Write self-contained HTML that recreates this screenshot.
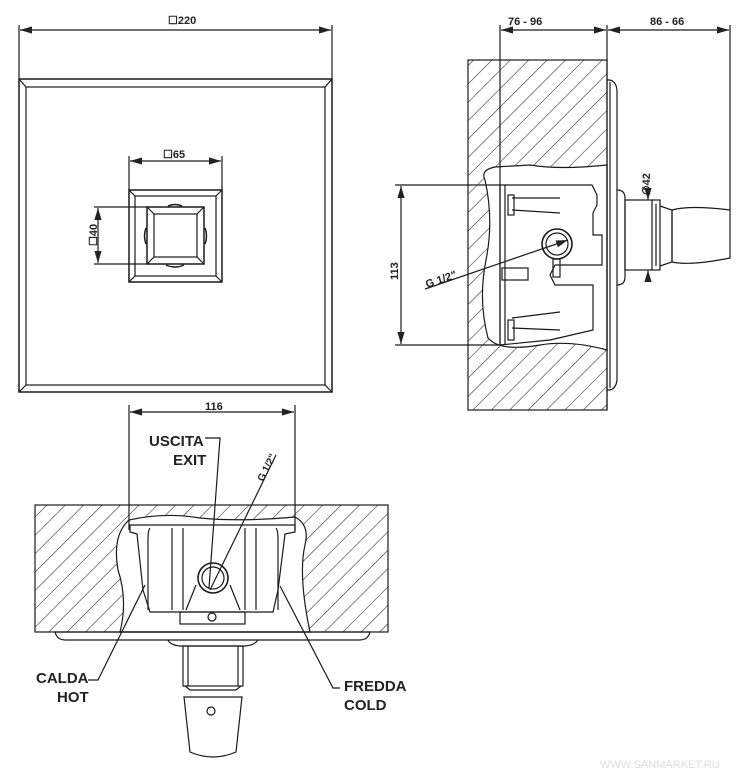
<!DOCTYPE html>
<html><head><meta charset="utf-8"><style>
html,body{margin:0;padding:0;background:#fff;}
svg{display:block;}
text{font-family:"Liberation Sans",Arial,sans-serif;font-weight:bold;fill:#222;}
</style></head><body>
<svg width="750" height="773" viewBox="0 0 750 773" xmlns="http://www.w3.org/2000/svg">
<defs>
<pattern id="h" patternUnits="userSpaceOnUse" width="13" height="13" patternTransform="rotate(45)">
<line x1="0" y1="0" x2="0" y2="13" stroke="#333" stroke-width="1.2"/>
</pattern>
<marker id="a" viewBox="0 0 10 6" refX="10" refY="3" markerWidth="10" markerHeight="6" orient="auto-start-reverse"><path d="M0,0 L10,3 L0,6z" fill="#222"/></marker>
</defs>
<g fill="none" stroke="#1a1a1a" stroke-width="1.2">
<!-- TOP-LEFT VIEW -->
<line x1="19" y1="25" x2="19" y2="79"/><line x1="332" y1="25" x2="332" y2="79"/>
<line x1="20" y1="30" x2="331" y2="30" marker-start="url(#a)" marker-end="url(#a)"/>
<rect x="19" y="79" width="313" height="313" stroke-width="1.5"/>
<rect x="26" y="87" width="299" height="298"/>
<path d="M19 79 L26 87 M332 79 L325 87 M19 392 L26 385 M332 392 L325 385"/>
<line x1="129" y1="156" x2="129" y2="190"/><line x1="222" y1="156" x2="222" y2="190"/>
<line x1="130" y1="161" x2="221" y2="161" marker-start="url(#a)" marker-end="url(#a)"/>
<rect x="129" y="190" width="93" height="92" stroke-width="1.5"/>
<rect x="135" y="196" width="81" height="80"/>
<path d="M129 190 L135 196 M222 190 L216 196 M129 282 L135 276 M222 282 L216 276"/>
<rect x="147" y="207" width="57" height="57" stroke-width="1.5"/>
<rect x="154" y="214" width="43" height="43"/>
<path d="M147 207 L154 214 M204 207 L197 214 M147 264 L154 257 M204 264 L197 257"/>
<path d="M146 228 Q143 236 146 244 M205 228 Q208 236 205 244 M168 206 Q175 203 182 206 M166 265 Q175 269 184 265" stroke-width="1.5"/>
<line x1="94" y1="207" x2="147" y2="207"/><line x1="94" y1="264" x2="147" y2="264"/>
<line x1="98" y1="208" x2="98" y2="263" marker-start="url(#a)" marker-end="url(#a)"/>

<!-- RIGHT VIEW -->
<rect x="468" y="60" width="139" height="350" fill="url(#h)" stroke="none"/>
<path d="M485 180 Q480 170 495 167 L530 165 Q560 170 607 165 L607 350 Q570 340 540 345 Q500 352 488 338 Q478 300 486 260 Q494 220 485 180z" fill="#fff" stroke="#1a1a1a"/>
<rect x="468" y="60" width="139" height="350"/>
<line x1="500" y1="25" x2="500" y2="345"/>
<line x1="607" y1="25" x2="607" y2="410"/>
<line x1="730" y1="25" x2="730" y2="210"/>
<line x1="501" y1="30" x2="606" y2="30" marker-start="url(#a)" marker-end="url(#a)"/>
<line x1="608" y1="30" x2="729" y2="30" marker-start="url(#a)" marker-end="url(#a)"/>
<path d="M607 80 L610 80 Q617 82 617 92 L617 378 Q617 388 610 390 L607 390"/>
<line x1="610" y1="82" x2="610" y2="388"/>
<path d="M500 185 L592 185 L597 195 L597 205 L593 213 L593 235 L602 235 L602 265 L555 265 L550 275 L555 285 L593 285 L593 330 L550 340 L500 345z"/>
<line x1="505" y1="185" x2="505" y2="345"/>
<line x1="512" y1="198" x2="560" y2="198"/><line x1="512" y1="210" x2="560" y2="213"/><rect x="508" y="195" width="6" height="20"/>
<line x1="512" y1="318" x2="560" y2="312"/><line x1="512" y1="328" x2="560" y2="330"/><rect x="508" y="320" width="6" height="20"/>
<rect x="502" y="268" width="26" height="12"/>
<circle cx="557" cy="244" r="15" stroke-width="1.6"/><circle cx="557" cy="244" r="11"/>
<rect x="553" y="259" width="7" height="18"/>
<path d="M617 190 Q625 190 625 198 L625 277 Q625 285 617 285"/>
<rect x="625" y="200" width="35" height="70"/>
<line x1="652" y1="200" x2="652" y2="270"/><line x1="656" y1="204" x2="656" y2="266"/>
<path d="M660 206 L672 210 L672 262 L660 266"/>
<path d="M672 210 Q690 205 730 210 L730 258 Q690 266 672 262z"/>
<line x1="648" y1="190" x2="648" y2="200" marker-end="url(#a)"/><line x1="648" y1="280" x2="648" y2="270" marker-end="url(#a)"/>
<line x1="395" y1="185" x2="500" y2="185"/><line x1="395" y1="345" x2="500" y2="345"/>
<line x1="401" y1="186" x2="401" y2="344" marker-start="url(#a)" marker-end="url(#a)"/>
<line x1="425" y1="289" x2="568" y2="240" marker-end="url(#a)"/>

<!-- BOTTOM VIEW -->
<rect x="35" y="505" width="353" height="127" fill="url(#h)" stroke="none"/>
<path d="M129 520 Q165 512 200 518 Q240 522 295 517 Q310 525 305 545 Q298 575 310 632 L120 632 Q128 600 118 570 Q112 535 129 520z" fill="#fff" stroke="#1a1a1a"/>
<rect x="35" y="505" width="353" height="127"/>
<line x1="129" y1="405" x2="129" y2="530"/><line x1="295" y1="405" x2="295" y2="530"/>
<line x1="130" y1="412" x2="294" y2="412" marker-start="url(#a)" marker-end="url(#a)"/>
<path d="M130 525 L295 525 L295 532 L285 534 L278 590 L273 612 L150 612 L143 590 L137 534 L130 532z"/>
<path d="M150 528 Q148 530 148 540 L148 610 M183 528 L183 610 M172 528 L172 610 M245 528 L245 610 M256 528 L256 610 M276 528 Q278 530 278 540 L278 610"/>
<circle cx="213" cy="578" r="15" stroke-width="1.6"/><circle cx="213" cy="578" r="11"/>
<path d="M196 585 L186 610 M230 585 L240 610"/>
<rect x="180" y="612" width="65" height="12"/>
<circle cx="212" cy="617" r="4"/>
<path d="M55 632 L370 632 Q368 640 360 640 L65 640 Q57 640 55 632z"/>
<path d="M168 640 Q170 645 180 646 L245 646 Q255 645 258 640"/>
<rect x="183" y="646" width="60" height="40"/>
<line x1="188" y1="646" x2="188" y2="686"/><line x1="238" y1="646" x2="238" y2="686"/>
<path d="M185 686 L190 690 L236 690 L241 686"/>
<path d="M184 697 L242 697 L236 752 Q213 762 190 752z"/>
<circle cx="211" cy="711" r="4"/>
<path d="M205 438 L220 438 L209 588" />
<path d="M276 455 L210 590"/>
<path d="M88 680 L98 680 L145 585"/>
<path d="M340 688 L333 688 L280 586"/>
</g>
<text x="168" y="24" font-size="11">☐220</text>
<text x="163" y="158" font-size="11">☐65</text>
<text transform="translate(97,246) rotate(-90)" font-size="11">☐40</text>
<text x="508" y="25" font-size="11">76 - 96</text>
<text x="650" y="25" font-size="11">86 - 66</text>
<text transform="translate(650,195) rotate(-90)" font-size="11">∅42</text>
<text transform="translate(398,280) rotate(-90)" font-size="11">113</text>
<text transform="translate(427,288) rotate(-19)" font-size="11">G 1/2"</text>
<text x="205" y="410" font-size="11">116</text>
<text x="149" y="446" font-size="15">USCITA</text>
<text x="173" y="465" font-size="15">EXIT</text>
<text transform="translate(263,482) rotate(-63)" font-size="10">G 1/2"</text>
<text x="36" y="683" font-size="15">CALDA</text>
<text x="57" y="702" font-size="15">HOT</text>
<text x="344" y="691" font-size="15">FREDDA</text>
<text x="344" y="710" font-size="15">COLD</text>
<text x="600" y="768" font-size="11" style="fill:#ddd;font-weight:normal">WWW.SANMARKET.RU</text>
</svg>
</body></html>
